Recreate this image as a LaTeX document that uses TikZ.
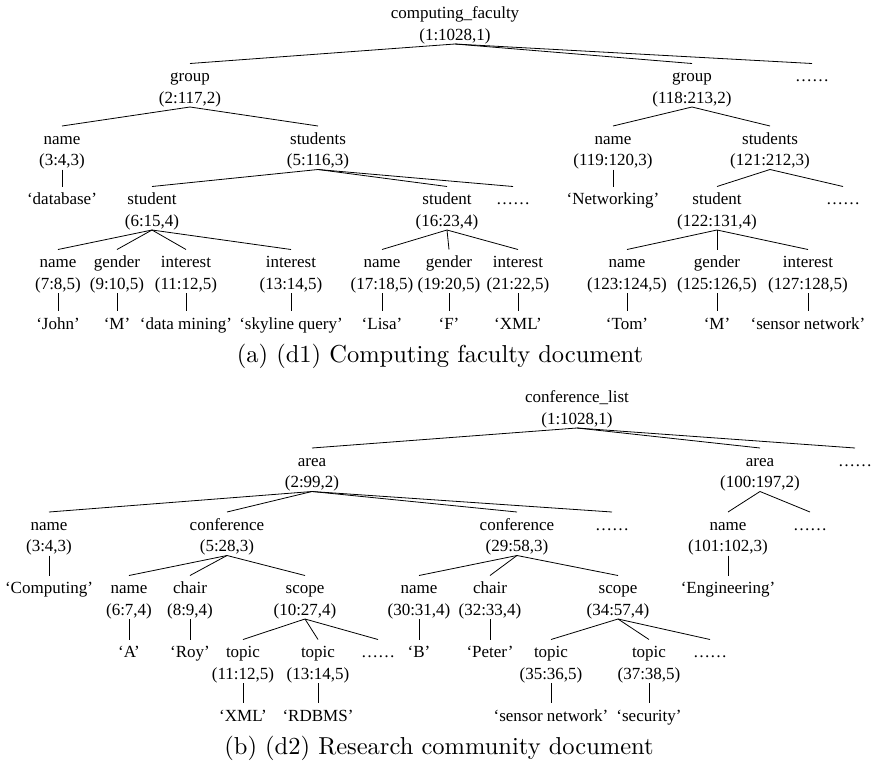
\documentclass[tikz,border=0pt]{standalone}
\usepackage{fontspec}
\usepackage{graphicx}
\newfontfamily\treefont{Liberation Serif}
% two-line tree label and one-line leaf label, with fixed strut height/depth
\newcommand\twol[2]{\rule{0pt}{18pt}#1\\#2\rule[-4pt]{0pt}{4pt}}
\newcommand\onel[1]{\rule{0pt}{18pt}#1\rule[-4pt]{0pt}{4pt}}
\begin{document}
\begin{tikzpicture}[x=1pt,y=-1pt,
  tn/.style={anchor=north,inner sep=0pt,outer sep=0pt,align=center,
    font=\treefont\fontsize{17}{21.5}\selectfont},
  edge/.style={draw=black,line width=0.8pt},
  captext/.style={inner sep=0pt,font=\rmfamily\fontsize{10}{12}\selectfont}]
\useasboundingbox (0,0) rectangle (871,766);

% ---------------- (a) computing faculty document ----------------
\node[tn] (ar) at (455,0.5) {\twol{computing\_faculty}{(1:1028,1)}};
% level 2
\node[tn] (ag1) at (190,63.5) {\twol{group}{(2:117,2)}};
\node[tn] (ag2) at (692,63.5) {\twol{group}{(118:213,2)}};
\node[tn] (adA) at (812,63.5) {\onel{……}};
% level 3
\node[tn] (an1) at (62,126) {\twol{name}{(3:4,3)}};
\node[tn] (as1) at (318,126) {\twol{students}{(5:116,3)}};
\node[tn] (an3) at (613,126) {\twol{name}{(119:120,3)}};
\node[tn] (as2) at (770,126) {\twol{students}{(121:212,3)}};
% level 4
\node[tn] (av1) at (62,186.5) {\onel{‘database’}};
\node[tn] (ast1) at (152,186.5) {\twol{student}{(6:15,4)}};
\node[tn] (ast2) at (447,186.5) {\twol{student}{(16:23,4)}};
\node[tn] (adB) at (513,186.5) {\onel{……}};
\node[tn] (av2) at (613,186.5) {\onel{‘Networking’}};
\node[tn] (ast3) at (717,186.5) {\twol{student}{(122:131,4)}};
\node[tn] (adC) at (843,186.5) {\onel{……}};
% level 5
\node[tn] (an2) at (58,249.5) {\twol{name}{(7:8,5)}};
\node[tn] (age1) at (117,249.5) {\twol{gender}{(9:10,5)}};
\node[tn] (ai1) at (186,249.5) {\twol{interest}{(11:12,5)}};
\node[tn] (ai2) at (291,249.5) {\twol{interest}{(13:14,5)}};
\node[tn] (an4) at (382,249.5) {\twol{name}{(17:18,5)}};
\node[tn] (age2) at (449,249.5) {\twol{gender}{(19:20,5)}};
\node[tn] (ai3) at (518,249.5) {\twol{interest}{(21:22,5)}};
\node[tn] (an5) at (627,249.5) {\twol{name}{(123:124,5)}};
\node[tn] (age3) at (717,249.5) {\twol{gender}{(125:126,5)}};
\node[tn] (ai4) at (808,249.5) {\twol{interest}{(127:128,5)}};
% level 6 values
\node[tn] (av3) at (58,311) {\onel{‘John’}};
\node[tn] (av4) at (117,311) {\onel{‘M’}};
\node[tn] (av5) at (186,311) {\onel{‘data mining’}};
\node[tn] (av6) at (291,311) {\onel{‘skyline query’}};
\node[tn] (av7) at (382,311) {\onel{‘Lisa’}};
\node[tn] (av8) at (449,311) {\onel{‘F’}};
\node[tn] (av9) at (518,311) {\onel{‘XML’}};
\node[tn] (av10) at (627,311) {\onel{‘Tom’}};
\node[tn] (av11) at (717,311) {\onel{‘M’}};
\node[tn] (av12) at (808,311) {\onel{‘sensor network’}};

\foreach \p/\c in {ar/ag1,ar/ag2,ar/adA,
    ag1/an1,ag1/as1,an1/av1,
    as1/ast1,as1/ast2,as1/adB,
    ast1/an2,ast1/age1,ast1/ai1,ast1/ai2,
    an2/av3,age1/av4,ai1/av5,ai2/av6,
    ast2/an4,ast2/age2,ast2/ai3,
    an4/av7,age2/av8,ai3/av9,
    ag2/an3,ag2/as2,an3/av2,
    as2/ast3,as2/adC,
    ast3/an5,ast3/age3,ast3/ai4,
    an5/av10,age3/av11,ai4/av12}
  \draw[edge] (\p.south) -- (\c.north);

\node[captext] (capa) at (440,356.5) {\scalebox{2.45}{(a) (d1) Computing faculty document}};

% ---------------- (b) research community document ----------------
\node[tn] (br) at (577,384.5) {\twol{conference\_list}{(1:1028,1)}};
% level 2
\node[tn] (ba1) at (312,448) {\twol{area}{(2:99,2)}};
\node[tn] (ba2) at (760,448) {\twol{area}{(100:197,2)}};
\node[tn] (bdA) at (855,448) {\onel{……}};
% level 3
\node[tn] (bn1) at (49,512) {\twol{name}{(3:4,3)}};
\node[tn] (bc1) at (227,512) {\twol{conference}{(5:28,3)}};
\node[tn] (bc2) at (517,512) {\twol{conference}{(29:58,3)}};
\node[tn] (bdB) at (612,512) {\onel{……}};
\node[tn] (bn2) at (728,512) {\twol{name}{(101:102,3)}};
\node[tn] (bdC) at (810,512) {\onel{……}};
% level 4
\node[tn] (bv1) at (49,575.5) {\onel{‘Computing’}};
\node[tn] (bn3) at (129,575.5) {\twol{name}{(6:7,4)}};
\node[tn] (bch1) at (190,575.5) {\twol{chair}{(8:9,4)}};
\node[tn] (bs1) at (305,575.5) {\twol{scope}{(10:27,4)}};
\node[tn] (bn4) at (419,575.5) {\twol{name}{(30:31,4)}};
\node[tn] (bch2) at (490,575.5) {\twol{chair}{(32:33,4)}};
\node[tn] (bs2) at (618,575.5) {\twol{scope}{(34:57,4)}};
\node[tn] (bv2) at (728,575.5) {\onel{‘Engineering’}};
% level 5
\node[tn] (bv3) at (129,639.5) {\onel{‘A’}};
\node[tn] (bv4) at (190,639.5) {\onel{‘Roy’}};
\node[tn] (bt1) at (243,639.5) {\twol{topic}{(11:12,5)}};
\node[tn] (bt2) at (318,639.5) {\twol{topic}{(13:14,5)}};
\node[tn] (bdD) at (378,639.5) {\onel{……}};
\node[tn] (bv5) at (419,639.5) {\onel{‘B’}};
\node[tn] (bv6) at (490,639.5) {\onel{‘Peter’}};
\node[tn] (bt3) at (551,639.5) {\twol{topic}{(35:36,5)}};
\node[tn] (bt4) at (649,639.5) {\twol{topic}{(37:38,5)}};
\node[tn] (bdE) at (710,639.5) {\onel{……}};
% level 6 values
\node[tn] (bv7) at (243,703) {\onel{‘XML’}};
\node[tn] (bv8) at (318,703) {\onel{‘RDBMS’}};
\node[tn] (bv9) at (551,703) {\onel{‘sensor network’}};
\node[tn] (bv10) at (649,703) {\onel{‘security’}};

\foreach \p/\c in {br/ba1,br/ba2,br/bdA,
    ba1/bn1,ba1/bc1,ba1/bc2,ba1/bdB,
    bn1/bv1,
    bc1/bn3,bc1/bch1,bc1/bs1,
    bn3/bv3,bch1/bv4,
    bs1/bt1,bs1/bt2,bs1/bdD,
    bt1/bv7,bt2/bv8,
    bc2/bn4,bc2/bch2,bc2/bs2,
    bn4/bv5,bch2/bv6,
    bs2/bt3,bs2/bt4,bs2/bdE,
    bt3/bv9,bt4/bv10,
    ba2/bn2,ba2/bdC,bn2/bv2}
  \draw[edge] (\p.south) -- (\c.north);

\node[captext] (capb) at (439,748) {\scalebox{2.45}{(b) (d2) Research community document}};
\end{tikzpicture}
\end{document}
